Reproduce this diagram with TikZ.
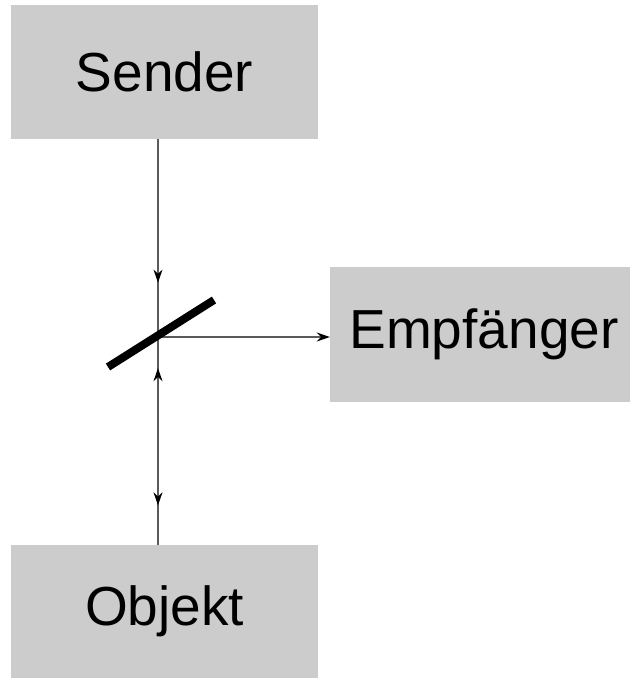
\documentclass[tikz,border=0pt]{standalone}
\usepackage{fontspec}
\setmainfont{Liberation Sans}
\usetikzlibrary{arrows.meta,decorations.markings}
\definecolor{boxgray}{HTML}{CCCCCC}
\definecolor{beam}{HTML}{5A5A5A}
\tikzset{
  unit/.style={draw=none,fill=boxgray,inner sep=0pt},
  caption/.style={font=\fontsize{55}{60}\selectfont,inner sep=0pt},
  ray/.style={draw=beam,line width=1.4pt},
  beamtip/.tip={Stealth[length=13pt,width=9pt,black]},
}
\begin{document}
\begin{tikzpicture}[x=1pt,y=-1pt]
\useasboundingbox (0,0) rectangle (630,678);
% boxes
\node[unit,minimum width=307pt,minimum height=134pt] (sender) at (164.5,72) {};
\node[unit,minimum width=300pt,minimum height=135pt] (empf) at (480,334.5) {};
\node[unit,minimum width=307pt,minimum height=133pt] (objekt) at (164.5,611.5) {};
\node[caption] (tsender) at (sender) {Sender};
\node[caption] (tempf) at ([xshift=4pt]empf.center) {Empfänger};
\node[caption] (tobjekt) at (objekt) {Objekt};
% beam splitter
\coordinate (m) at (158,337);
\coordinate (ma) at (108,367);
\coordinate (mb) at (214,300);
% rays
\draw[ray,postaction={decorate},decoration={markings,mark=at position 0.725 with {\arrow{beamtip}}}]
  (sender.south -| m) -- (m);
\draw[ray,postaction={decorate},decoration={markings,
  mark=at position 0.85 with {\arrow{beamtip}},
  mark=at position 0.19 with {\arrowreversed{beamtip}}}]
  (objekt.north -| m) -- (m);
\draw[ray,-{beamtip}] (m) -- (empf.west |- m);
\draw[line width=8pt] (ma) -- (mb);
\end{tikzpicture}
\end{document}
